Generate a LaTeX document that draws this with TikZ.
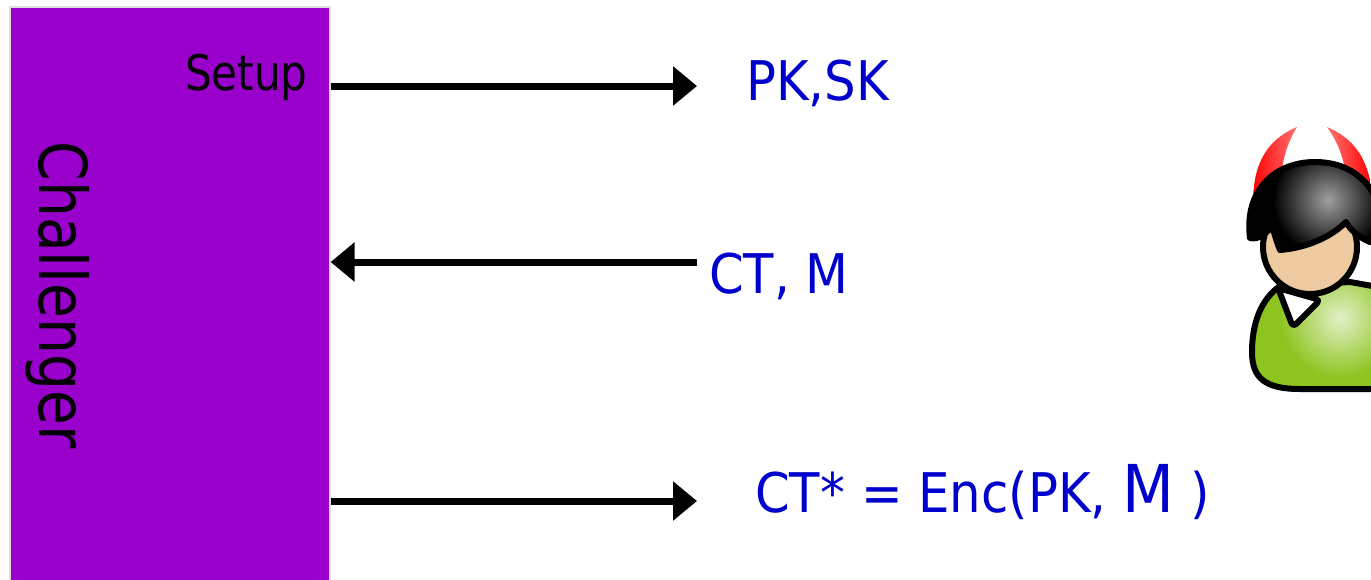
\documentclass[tikz,border=0pt]{standalone}
\usepackage{fontspec}
\setmainfont{DejaVu Sans}[FakeStretch=0.86]
\newfontfamily\msgfont{DejaVu Sans}[FakeStretch=0.91]
\usepackage{tikz}
\usetikzlibrary{arrows.meta}
\definecolor{chalpurple}{HTML}{9900CC}
\definecolor{msgblue}{HTML}{0000CC}
\definecolor{skin}{HTML}{EDCA9F}
\definecolor{shirt}{HTML}{8DC41F}

\begin{document}
\begin{tikzpicture}[x=0.75pt, y=-0.75pt,
  msg/.style={-{Triangle[length=18pt, width=28.5pt]}, line width=5.25pt},
  lbl/.style={inner sep=0pt, anchor=base west, text=msgblue, font=\msgfont\fontsize{41}{48}\selectfont},
  outline/.style={line width=4.5pt, line join=round}]
\useasboundingbox (0,0) rectangle (1371,579);
\clip (0,0) rectangle (1371,579);

% challenger column
\node (chal) at (9,6) [anchor=north west, draw=gray!25, line width=1.2pt, fill=chalpurple, minimum width=240pt, minimum height=440pt, inner sep=0pt] {};
\node (name) at (39,295) [anchor=base, rotate=-90, inner sep=0pt, font=\fontsize{49.5}{58}\selectfont] {Challenger};
\node (setup) at (308,90) [anchor=base east, inner sep=0pt, font=\fontsize{36.75}{44}\selectfont] {Setup};

% messages
\coordinate (keys) at (697,86);
\coordinate (query) at (697,262);
\coordinate (chall) at (697,501);
\draw[msg] (chal.east |- keys) -- (keys);
\draw[msg] (query) -- (chal.east |- query);
\draw[msg] (chal.east |- chall) -- (chall);

\node (pksk) at (746,100) [lbl] {PK,SK};
\node (ctm) at (709,293) [lbl] {CT, M};
\node (ctstar) at (755,512) [lbl] {CT* = Enc(PK, {\fontsize{49.5}{58}\selectfont M} )};

% adversary: horns, body, collar, face, hair
\shade[left color=red, right color=red!55!white] (1297,127) .. controls (1266,140) and (1252,165) .. (1253,208) -- (1281,195) .. controls (1280,165) and (1286,145) .. (1297,127) -- cycle;
\shade[left color=red!55!white, right color=red] (1327,127) .. controls (1340,145) and (1347,165) .. (1347,195) -- (1373,208) .. controls (1372,165) and (1358,140) .. (1327,127) -- cycle;

\begin{scope}
  \clip (1280,286) .. controls (1260,300) and (1252,325) .. (1252,352) .. controls (1252,378) and (1265,389) .. (1300,389) -- (1395,389) -- (1395,290) -- (1350,282) -- cycle;
  \fill[shirt] (1240,270) rectangle (1400,400);
  \shade[inner color=shirt!25!white, outer color=shirt] (1340,318) circle (60);
\end{scope}
\draw[outline] (1280,286) .. controls (1260,300) and (1252,325) .. (1252,352) .. controls (1252,378) and (1265,389) .. (1300,389) -- (1395,389) -- (1395,290) -- (1350,282) -- cycle;

\filldraw[outline, fill=white, rounded corners=3pt] (1278,288) -- (1293,327) -- (1320,300) -- cycle;
\filldraw[outline, fill=skin] (1310,247) circle (47);

\begin{scope}
  \clip (1250,238) .. controls (1244,190) and (1275,162) .. (1315,162) .. controls (1360,162) and (1385,195) .. (1385,240) -- (1370,242) .. controls (1360,238) and (1350,230) .. (1346,222) .. controls (1330,238) and (1305,248) .. (1280,250) .. controls (1276,240) and (1274,232) .. (1272,226) .. controls (1266,234) and (1258,240) .. (1250,238) -- cycle;
  \fill[black] (1240,150) rectangle (1400,260);
  \shade[inner color=gray!75, outer color=black] (1328,200) circle (55);
\end{scope}
\draw[outline] (1250,238) .. controls (1244,190) and (1275,162) .. (1315,162) .. controls (1360,162) and (1385,195) .. (1385,240) -- (1370,242) .. controls (1360,238) and (1350,230) .. (1346,222) .. controls (1330,238) and (1305,248) .. (1280,250) .. controls (1276,240) and (1274,232) .. (1272,226) .. controls (1266,234) and (1258,240) .. (1250,238) -- cycle;
\end{tikzpicture}
\end{document}
